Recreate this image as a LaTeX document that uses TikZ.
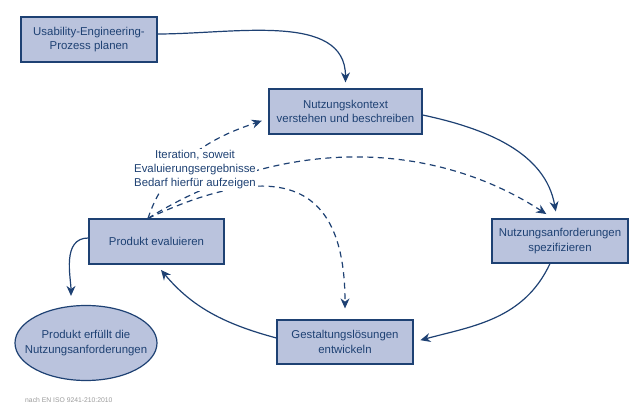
\documentclass[tikz,border=0pt]{standalone}
\usepackage{fontspec}
\setmainfont{Liberation Sans}
\usetikzlibrary{arrows.meta,shapes.geometric}
\definecolor{navy}{HTML}{1E4173}
\definecolor{boxfill}{HTML}{BAC3DD}
\definecolor{note}{HTML}{9A9A9A}
\tikzset{
  box/.style     ={draw=navy, fill=boxfill, line width=1.2pt, align=center,
                   inner sep=0pt, text=navy, font=\fontsize{11.4}{14.5}\selectfont,
                   minimum width=136pt, minimum height=45pt},
  goal/.style    ={box, ellipse, inner xsep=-15pt, minimum width=142pt, minimum height=75pt},
  flow/.style    ={-{Stealth[length=10pt,width=9pt]}, navy, line width=1.2pt},
  % iteration paths: dashed
  iterflow/.style={flow, dash pattern=on 6pt off 4.5pt},
  tag/.style     ={fill=white, inner sep=1.5pt, align=center, text=navy,
                   font=\fontsize{11.4}{14}\selectfont},
  src/.style     ={text=note, inner sep=0pt, font=\fontsize{6.8}{8}\selectfont},
}
\begin{document}
\begin{tikzpicture}[x=1pt, y=1pt]
    \useasboundingbox (0,0) rectangle (640,419);
    \node[box] (plan) at (89,379.5) {Usability-Engineering-\\Prozess planen};
    \node[box, minimum width=153pt] (ctx) at (345.5,307.5) {Nutzungskontext\\verstehen und beschreiben};
    \node[box, minimum height=44pt] (req) at (560,178) {Nutzungsanforderungen\\spezifizieren};
    \node[box, minimum width=135pt] (eval) at (156.5,177.5) {Produkt evaluieren};
    \node[box, minimum height=44pt] (design) at (345,77) {Gestaltungslösungen\\entwickeln};
    \node[goal] (done) at (86,76) {Produkt erfüllt die\\Nutzungsanforderungen};
    \coordinate (it) at ([xshift=-8.5pt]eval.north);
    % main cycle
    \draw[flow, shorten >=6pt] ([yshift=5.5pt]plan.east) to[out=0, in=90] (ctx.north);
    \draw[flow, shorten >=7pt] ([yshift=-3.5pt]ctx.east) to[out=-12, in=100] ([xshift=-3pt]req.north);
    \draw[flow, shorten >=7pt] ([xshift=-10pt]req.south) to[out=-115, in=15] (design.east);
    \draw[flow, shorten >=7pt] ([yshift=4pt]design.west) to[out=165, in=-50] (eval.south);
    \draw[flow, shorten >=9pt] ([yshift=3.5pt]eval.west) to[out=180, in=90] ([xshift=-15pt]done.north);
    % iterations
    \draw[iterflow, shorten >=7pt] (it) to[out=72, in=199, out distance=70pt, in distance=40pt] ([yshift=-7pt]ctx.west);
    \draw[iterflow, shorten >=8pt] (it) to[out=32, in=147, distance=150pt] ([xshift=-7pt]req.north);
    \draw[iterflow, shorten >=11pt] (it) to[out=25, in=90, out distance=160pt, in distance=125pt] (design.north);
    \node[tag] (iter) at (195,249) {Iteration, soweit\\Evaluierungsergebnisse\\Bedarf hierfür aufzeigen};
    \node[src, anchor=west] (norm) at (25,19) {nach EN ISO 9241-210:2010};
  \end{tikzpicture}
\end{document}
